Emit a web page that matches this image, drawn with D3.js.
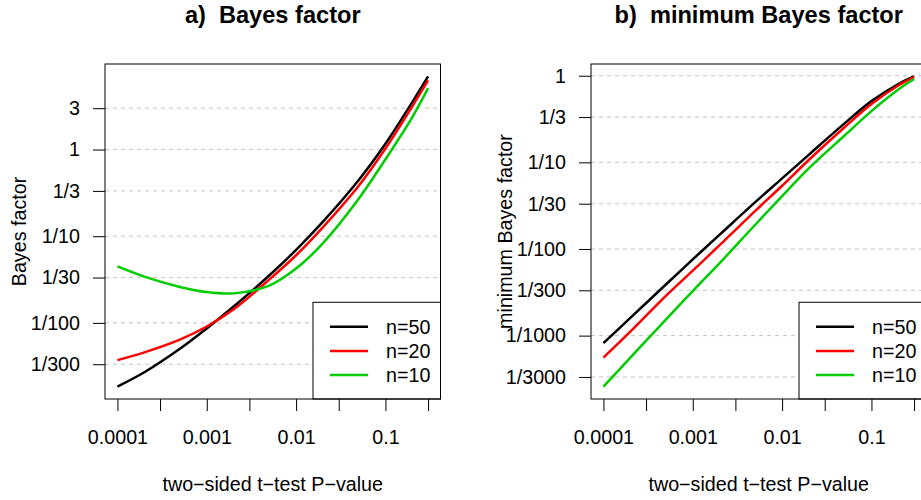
<!DOCTYPE html>
<html>
<head>
<meta charset="utf-8">
<script src="https://cdn.jsdelivr.net/npm/d3@7"></script>
<style>
  body { margin: 0; background: #fff; }
  svg { display: block; font-family: "Liberation Sans", Arial, Helvetica, sans-serif; }
</style>
</head>
<body>
<div id="chart"></div>
<script>
const pValues = [0.0001, 0.0002, 0.0005, 0.001, 0.002, 0.005, 0.01, 0.02, 0.05, 0.1, 0.2, 0.3];

// a) Bayes factor
const bfN50 = [0.00184, 0.00269, 0.00502, 0.00863, 0.01545, 0.0352, 0.0695, 0.147, 0.442, 1.164, 3.53, 6.98];
const bfN20 = [0.00372, 0.00457, 0.00641, 0.00908, 0.01436, 0.0316, 0.0603, 0.1274, 0.380, 1.028, 3.16, 6.27];
const bfN10 = [0.0448, 0.0342, 0.0260, 0.02265, 0.0219, 0.0269, 0.0423, 0.0834, 0.269, 0.772, 2.37, 5.11];

// b) minimum Bayes factor
const minBfN50 = [0.000818, 0.00160, 0.00389, 0.00759, 0.01462, 0.0347, 0.0653, 0.1230, 0.2818, 0.509, 0.802, 0.982];
const minBfN20 = [0.000558, 0.00111, 0.00288, 0.00562, 0.0111, 0.0275, 0.0537, 0.1072, 0.254, 0.472, 0.771, 0.962];
const minBfN10 = [0.000258, 0.000556, 0.00153, 0.00327, 0.00687, 0.01905, 0.0407, 0.0857, 0.204, 0.390, 0.692, 0.916];

const seriesNames = ["n=50", "n=20", "n=10"];

const xTicks = [0.0001, 0.0003, 0.001, 0.003, 0.01, 0.03, 0.1, 0.3];
const xTickLabels = ["0.0001", "", "0.001", "", "0.01", "", "0.1", ""];

const yTicksA = [3, 1, 1/3, 1/10, 1/30, 1/100, 1/300];
const yTickLabelsA = ["3", "1", "1/3", "1/10", "1/30", "1/100", "1/300"];
const yTicksB = [1, 1/3, 1/10, 1/30, 1/100, 1/300, 1/1000, 1/3000];
const yTickLabelsB = ["1", "1/3", "1/10", "1/30", "1/100", "1/300", "1/1000", "1/3000"];

const colors = ["#000000", "#ff0000", "#00cd00"];

const width = 921, height = 500;
const fontSize = 19.7;

const svg = d3.select("#chart")
  .append("svg")
  .attr("width", width)
  .attr("height", height);

// R style: pad a log axis by 4% on each side
function logPad(ext) {
  const lo = Math.log10(ext[0]), hi = Math.log10(ext[1]);
  const pad = (hi - lo) * 0.04;
  return [Math.pow(10, lo - pad), Math.pow(10, hi + pad)];
}

function drawPanel(o) {
  const top = 64, bottom = 399;
  const g = svg.append("g");

  const x = d3.scaleLog()
    .domain(logPad(d3.extent(pValues)))
    .range([o.left, o.right]);

  const y = d3.scaleLog()
    .domain(logPad(d3.extent(o.series.flat())))
    .range([bottom, top]);

  // dashed grid lines
  g.append("g")
    .selectAll("line")
    .data(o.yTicks)
    .join("line")
    .attr("x1", o.left).attr("x2", o.right)
    .attr("y1", d => y(d)).attr("y2", d => y(d))
    .attr("stroke", "#c4c4c4")
    .attr("stroke-width", 1)
    .attr("stroke-dasharray", "4,4");

  const line = d3.line()
    .x(d => x(d[0]))
    .y(d => y(d[1]))
    .curve(d3.curveCatmullRom.alpha(0.5));

  g.append("g")
    .selectAll("path")
    .data(o.series)
    .join("path")
    .attr("fill", "none")
    .attr("stroke", (d, i) => colors[i])
    .attr("stroke-width", 2.5)
    .attr("d", vals => line(pValues.map((p, i) => [p, vals[i]])));

  // legend in bottom right corner
  const lx = o.right - 127.5, ly = bottom - 96.7;
  const leg = g.append("g");
  leg.append("rect")
    .attr("x", lx).attr("y", ly)
    .attr("width", o.right - lx).attr("height", bottom - ly)
    .attr("fill", "#fff")
    .attr("stroke", "#000");
  seriesNames.forEach((name, i) => {
    const yy = ly + 24.4 + i * 24.2;
    leg.append("line")
      .attr("x1", lx + 17).attr("x2", lx + 55)
      .attr("y1", yy).attr("y2", yy)
      .attr("stroke", colors[i])
      .attr("stroke-width", 2.5);
    leg.append("text")
      .attr("x", lx + 73).attr("y", yy)
      .attr("dy", "0.35em")
      .attr("font-size", fontSize)
      .text(name);
  });

  // plot box
  g.append("rect")
    .attr("x", o.left).attr("y", top)
    .attr("width", o.right - o.left).attr("height", bottom - top)
    .attr("fill", "none")
    .attr("stroke", "#000");

  // axes
  const xAxis = g.append("g")
    .attr("transform", `translate(0,${bottom})`)
    .call(d3.axisBottom(x)
      .tickValues(xTicks)
      .tickFormat((d, i) => xTickLabels[i])
      .tickSize(12)
      .tickPadding(19));
  xAxis.select(".domain").remove();
  xAxis.selectAll("text").attr("font-size", fontSize).attr("fill", "#000");
  xAxis.selectAll("line").attr("stroke", "#000");

  const yAxis = g.append("g")
    .attr("transform", `translate(${o.left},0)`)
    .call(d3.axisLeft(y)
      .tickValues(o.yTicks)
      .tickFormat((d, i) => o.yTickLabels[i])
      .tickSize(12)
      .tickPadding(13));
  yAxis.select(".domain").remove();
  yAxis.selectAll("text").attr("font-size", fontSize).attr("fill", "#000");
  yAxis.selectAll("line").attr("stroke", "#000");

  // titles
  const cx = (o.left + o.right) / 2;
  g.append("text")
    .attr("x", cx).attr("y", 23)
    .attr("text-anchor", "middle")
    .attr("font-size", 23.6)
    .attr("font-weight", "bold")
    .style("white-space", "pre")
    .text(o.title);

  g.append("text")
    .attr("x", cx).attr("y", 491)
    .attr("text-anchor", "middle")
    .attr("font-size", fontSize)
    .text("two\u2212sided t\u2212test P\u2212value");

  g.append("text")
    .attr("transform", `translate(${o.left - 79},${(top + bottom) / 2}) rotate(-90)`)
    .attr("text-anchor", "middle")
    .attr("font-size", fontSize)
    .text(o.yLabel);
}

drawPanel({
  left: 105, right: 440.5,
  series: [bfN50, bfN20, bfN10],
  yTicks: yTicksA, yTickLabels: yTickLabelsA,
  title: "a)  Bayes factor",
  yLabel: "Bayes factor"
});

drawPanel({
  left: 591, right: 926.5,
  series: [minBfN50, minBfN20, minBfN10],
  yTicks: yTicksB, yTickLabels: yTickLabelsB,
  title: "b)  minimum Bayes factor",
  yLabel: "minimum Bayes factor"
});
</script>
</body>
</html>
